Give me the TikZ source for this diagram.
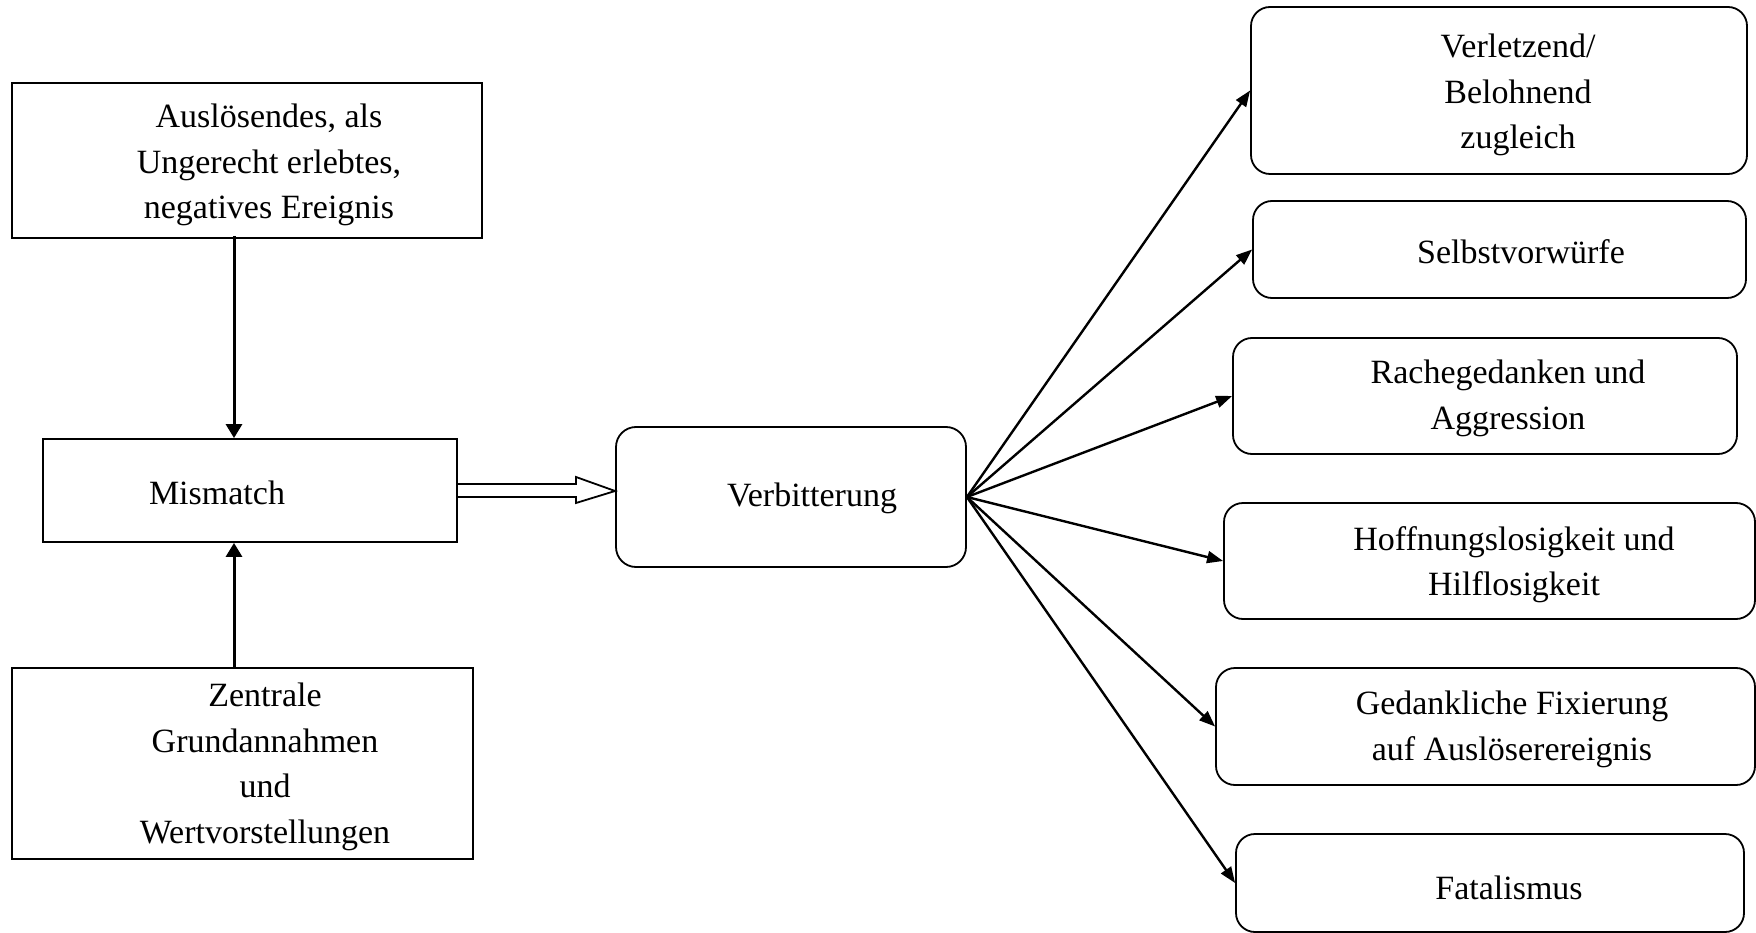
\documentclass[tikz,border=0pt]{standalone}
\usepackage{fontspec}
\setmainfont{Liberation Serif}
\usetikzlibrary{arrows.meta,calc}
\begin{document}
\begin{tikzpicture}[x=1pt,y=-1pt,
  sqbox/.style={draw,line width=1.8pt,rectangle,inner sep=0pt},
  rbox/.style={draw,line width=1.8pt,rectangle,rounded corners=19pt,inner sep=0pt},
  txt/.style={align=center,inner sep=0pt,font=\fontsize{34}{45.5}\selectfont},
  arr/.style={line width=2.4pt,-{Triangle[length=16pt,width=12pt]}},
  varr/.style={line width=3pt,-{Triangle[length=14pt,width=16pt]}},
  hollow/.style={draw,line width=1.8pt,line join=miter}]
\useasboundingbox (0,0) rectangle (1756,933);
% left column
\node[sqbox,minimum width=470pt,minimum height=155pt] (ev) at (247,160.5) {};
\node[txt] (evt) at (269,165) {Auslösendes, als\\Ungerecht erlebtes,\\negatives Ereignis};
\node[sqbox,minimum width=414pt,minimum height=103pt] (mm) at (250,490.5) {};
\node[txt] (mmt) at (217,493) {Mismatch};
\node[sqbox,minimum width=461pt,minimum height=191pt] (gr) at (242.5,763.5) {};
\node[txt] (grt) at (265,767) {Zentrale\\Grundannahmen\\und\\Wertvorstellungen};
% centre
\node[rbox,rounded corners=20pt,minimum width=350pt,minimum height=140pt] (vb) at (791,497) {};
\node[txt] (vbt) at (812,498) {Verbitterung};
% right column
\node[rbox,minimum width=496pt,minimum height=167pt] (r1) at (1499,90.5) {};
\node[txt] (r1t) at (1518,95) {Verletzend/\\Belohnend\\zugleich};
\node[rbox,minimum width=493pt,minimum height=97pt] (r2) at (1499.5,249.5) {};
\node[txt] (r2t) at (1521,252) {Selbstvorwürfe};
\node[rbox,minimum width=504pt,minimum height=116pt] (r3) at (1485,396) {};
\node[txt] (r3t) at (1508,398.5) {Rachegedanken und\\Aggression};
\node[rbox,minimum width=531pt,minimum height=116pt] (r4) at (1489.5,561) {};
\node[txt] (r4t) at (1514,564.5) {Hoffnungslosigkeit und\\Hilflosigkeit};
\node[rbox,minimum width=539pt,minimum height=117pt] (r5) at (1485.5,726.5) {};
\node[txt] (r5t) at (1512,729.5) {Gedankliche Fixierung\\auf Auslöserereignis};
\node[rbox,minimum width=508pt,minimum height=98pt] (r6) at (1490,883) {};
\node[txt] (r6t) at (1509,888) {Fatalismus};
% vertical arrows
\coordinate (vx) at (234,0);
\draw[varr] ($(ev.south -| vx)+(0,-3)$) -- (mm.north -| vx);
\draw[varr] (gr.north -| vx) -- (mm.south -| vx);
% hollow block arrow
\coordinate (ya) at (0,484);
\coordinate (yb) at (0,497);
\coordinate (yc) at (0,477);
\coordinate (yd) at (0,503);
\coordinate (yt) at (0,491);
\coordinate (hx) at (576,0);
\draw[hollow] (mm.east |- ya) -- (hx |- ya) -- (hx |- yc) -- (vb.west |- yt) -- (hx |- yd) -- (hx |- yb) -- (mm.east |- yb);
% fan arrows
\foreach \t in {r1,r2,r3,r4,r5,r6}
  \draw[arr] (vb.east) -- (\t.west);
\end{tikzpicture}
\end{document}
